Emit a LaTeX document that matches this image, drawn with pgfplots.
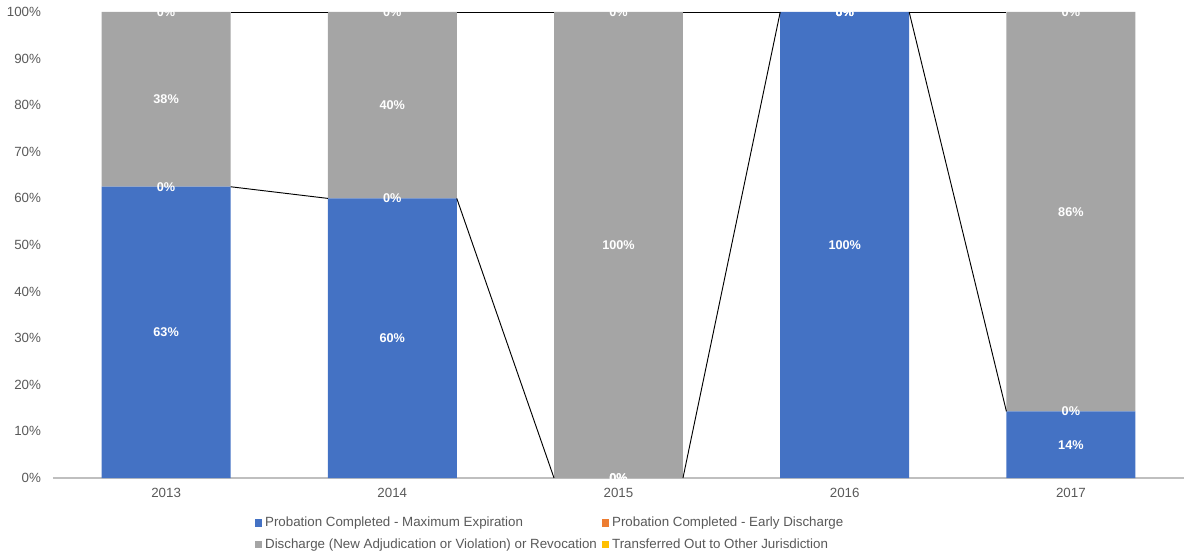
\documentclass[border=0pt]{standalone}
\usepackage{fontspec}
\setmainfont{Liberation Sans}
\usepackage{pgfplots}
\pgfplotsset{compat=1.18}
\definecolor{cblue}{HTML}{4472C4}
\definecolor{corange}{HTML}{ED7D31}
\definecolor{cgray}{HTML}{A5A5A5}
\definecolor{cyellow}{HTML}{FFC000}
\definecolor{textgray}{HTML}{595959}
\definecolor{axisgray}{HTML}{BFBFBF}
\begin{document}
\begin{tikzpicture}
\useasboundingbox (-39.75pt,-56.25pt) rectangle (849.75pt,358.5pt);
\pgfplotsset{base/.style={scale only axis, width=848.25pt, height=349.5pt,
  xmin=-0.5, xmax=4.5, ymin=0, ymax=100}}
\begin{axis}[base, ybar stacked, bar width=0.57, clip=false,
  axis x line*=bottom, axis y line*=left,
  x axis line style={draw=axisgray, line width=0.8pt},
  y axis line style={draw=none},
  major tick length=0pt,
  xtick={0,1,2,3,4}, xticklabels={2013,2014,2015,2016,2017},
  ytick={0,10,20,30,40,50,60,70,80,90,100},
  yticklabels={0\%,10\%,20\%,30\%,40\%,50\%,60\%,70\%,80\%,90\%,100\%},
  tick label style={font=\fontsize{10}{12}\selectfont, text=textgray},
  yticklabel style={xshift=-5.5pt},
  xticklabel style={yshift=-4pt},
  legend image code/.code={\fill[#1] (0pt,-2.7pt) rectangle (5.4pt,2.7pt);},
  legend cell align=left,
  legend style={at={(0.44,-0.12)}, anchor=center, draw=none,
    font=\fontsize{10}{12}\selectfont, text=textgray,
    /tikz/every even column/.append style={column sep=2pt},
    /tikz/row sep=3.5pt},
  legend columns=2,
]
\addplot[fill=cblue, draw=none] coordinates {(0,62.5)(1,60)(2,0)(3,100)(4,14.29)};
\addplot[fill=corange, draw=none] coordinates {(0,0)(1,0)(2,0)(3,0)(4,0)};
\addplot[fill=cgray, draw=none] coordinates {(0,37.5)(1,40)(2,100)(3,0)(4,85.71)};
\addplot[fill=cyellow, draw=none] coordinates {(0,0)(1,0)(2,0)(3,0)(4,0)};
\legend{Probation Completed - Maximum Expiration,Probation Completed - Early Discharge,Discharge (New Adjudication or Violation) or Revocation,Transferred Out to Other Jurisdiction}
\end{axis}
\begin{axis}[base, hide axis, clip=false]
\addplot[black, line width=0.7pt] coordinates {(0.285,62.5)(0.715,60)};
\addplot[black, line width=0.7pt] coordinates {(1.285,60)(1.715,0)};
\addplot[black, line width=0.7pt] coordinates {(2.285,0)(2.715,100)};
\addplot[black, line width=0.7pt] coordinates {(3.285,100)(3.715,14.29)};
\addplot[black, line width=0.7pt] coordinates {(0.285,100)(0.715,100)};
\addplot[black, line width=0.7pt] coordinates {(1.285,100)(1.715,100)};
\addplot[black, line width=0.7pt] coordinates {(2.285,100)(2.715,100)};
\addplot[black, line width=0.7pt] coordinates {(3.285,100)(3.715,100)};
\end{axis}
\begin{axis}[base, hide axis, clip mode=global,
  point meta=explicit symbolic, nodes near coords,
  every node near coord/.append style={anchor=center, text=white,
    font=\bfseries\fontsize{9.5}{11}\selectfont}]
\addplot[only marks, mark=none] coordinates {
 (0,31.25)[63\%] (0,62.5)[0\%] (0,81.25)[38\%] (0,100)[0\%]
 (1,30)[60\%] (1,60)[0\%] (1,80)[40\%] (1,100)[0\%]
 (2,0)[0\%] (2,0)[0\%] (2,50)[100\%] (2,100)[0\%]
 (3,50)[100\%] (3,100)[0\%] (3,100)[0\%] (3,100)[0\%]
 (4,7.14)[14\%] (4,14.29)[0\%] (4,57.14)[86\%] (4,100)[0\%]
};
\end{axis}
\end{tikzpicture}
\end{document}
